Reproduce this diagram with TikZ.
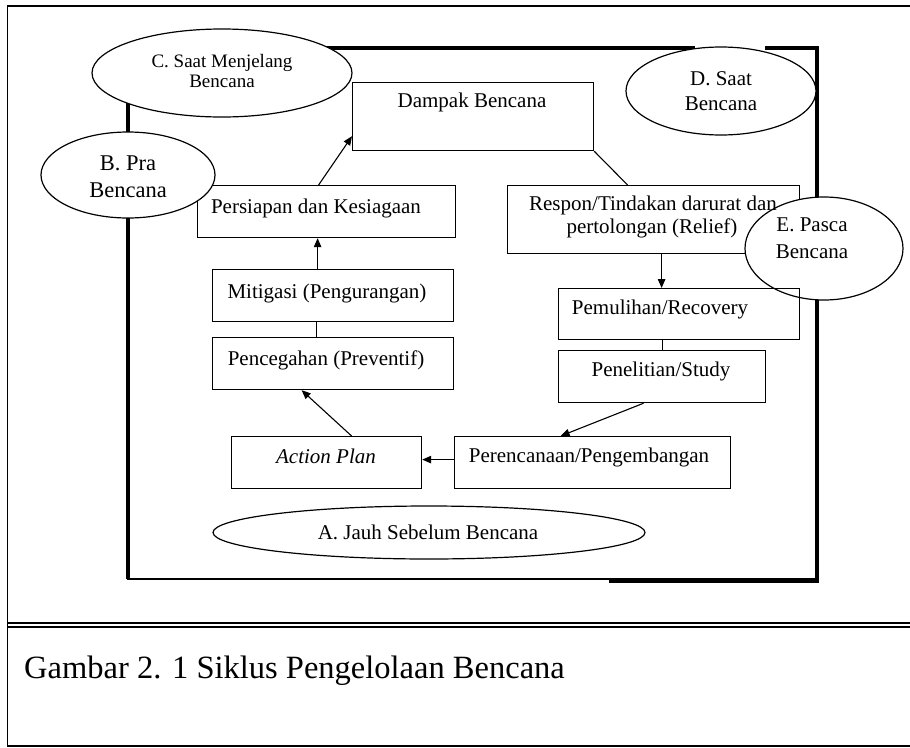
\documentclass[tikz,border=0pt]{standalone}
\usepackage{fontspec}
\setmainfont{Liberation Serif}
\usetikzlibrary{shapes.geometric,arrows.meta}
\begin{document}
\begin{tikzpicture}[x=1pt,y=-1pt,
  outerline/.style={line width=1.8pt},
  cycleline/.style={line width=3.5pt},
  box/.style={draw, line width=1.2pt, rectangle, inner sep=0pt, anchor=north west},
  phase/.style={draw, line width=1.2pt, ellipse, fill=white, inner sep=0pt},
  lbl/.style={font=\fontsize{21}{25}\selectfont, inner sep=0pt, anchor=base},
  link/.style={line width=1.1pt},
  arr/.style={link, -{Triangle[length=9pt,width=7.5pt]}},
]
\useasboundingbox (0,0) rectangle (910,747);
\begin{scope}
\clip (0,0) rectangle (910,747);
% table frame around figure and caption
\draw[outerline] (7.5,747) -- (7.5,6) -- (912,6);
\draw[line width=1.5pt] (7.5,623) -- (912,623);
\draw[line width=1.5pt] (7.5,627) -- (912,627);
\draw[outerline] (7.5,746) -- (912,746);
\end{scope}

% heavy frame of the cycle
\draw[cycleline] (128,46) -- (128,579);
\draw[cycleline] (126.25,48) -- (695,48);
\draw[cycleline] (765,48) -- (818.75,48);
\draw[cycleline] (817,46.25) -- (817,583);
\draw[line width=2pt] (127,579) -- (817,579);
\draw[line width=5pt] (609,580.5) -- (818.75,580.5);

% stage boxes
\node[box, minimum width=241pt, minimum height=68pt] (damp) at (352,82) {};
\node[box, minimum width=258pt, minimum height=52pt] (pers) at (197,185) {};
\node[box, minimum width=241pt, minimum height=52pt] (miti) at (212,269) {};
\node[box, minimum width=241pt, minimum height=52pt] (penc) at (212,337) {};
\node[box, minimum width=190pt, minimum height=52pt] (act) at (231,436) {};
\node[box, minimum width=276pt, minimum height=52pt] (pere) at (454,436) {};
\node[box, minimum width=207pt, minimum height=52pt] (pene) at (558,350) {};
\node[box, minimum width=292pt, minimum height=68pt] (resp) at (507,185) {};

% phase ellipses
\node[phase, minimum width=260pt, minimum height=88pt] (eC) at (222,73) {};
\node[phase, minimum width=174pt, minimum height=86pt] (eB) at (128,175) {};
\node[phase, minimum width=190pt, minimum height=88pt] (eD) at (721,91) {};
\node[phase, minimum width=158pt, minimum height=103pt] (eE) at (824,248.5) {};
\node[phase, minimum width=432pt, minimum height=53pt] (eA) at (429,532.5) {};

\node[box, minimum width=241pt, minimum height=51pt] (pemu) at (558,288) {};

% connectors
\draw[arr] ([xshift=-8pt]pers.north) -- ([yshift=15pt]damp.south west);
\draw[arr] ([xshift=-15.5pt]miti.north) -- ([xshift=-15.5pt]miti.north |- pers.south);
\draw[link] ([xshift=-16.5pt]penc.north) -- ([xshift=-16.5pt]penc.north |- miti.south);
\draw[arr] ([xshift=25pt]act.north) -- ([xshift=-31.5pt]penc.south);
\draw[arr] ([yshift=3pt]pere.west) -- ([yshift=3pt]act.east);
\draw[arr] ([xshift=-18.5pt]pene.south) -- ([xshift=-32pt]pere.north);
\draw[link] (pene.north |- pemu.south) -- (pene.north);
\draw[arr] ([xshift=8pt]resp.south) -- ([xshift=8pt]resp.south |- pemu.north);
\draw[link] (damp.south east) -- ([xshift=-26pt]resp.north);

% box texts
\node[lbl] (dampt) at (472,107) {Dampak Bencana};
\node[lbl] (perst) at (316,213) {Persiapan dan Kesiagaan};
\node[lbl] (mitit) at (327,298) {Mitigasi (Pengurangan)};
\node[lbl] (penct) at (326,365) {Pencegahan (Preventif)};
\node[lbl] (actt) at (326,463) {\itshape Action Plan};
\node[lbl] (peret) at (589,462) {Perencanaan/Pengembangan};
\node[lbl] (penet) at (661,376) {Penelitian/Study};
\node[lbl] (pemut) at (660,314) {Pemulihan/Recovery};
\node[lbl] (respa) at (653,210) {Respon/Tindakan darurat dan};
\node[lbl] (respb) at (652,233) {pertolongan (Relief)};

% phase texts (base anchor sits on the last line)
\node[lbl, font=\fontsize{19}{20}\selectfont, align=center] (eCt) at (222,87) {C. Saat Menjelang\\Bencana};
\node[lbl, font=\fontsize{22.5}{27}\selectfont, align=center] (eBt) at (128,197) {B. Pra\\Bencana};
\node[lbl, font=\fontsize{21}{25}\selectfont, align=center] (eDt) at (721,110) {D. Saat\\Bencana};
\node[lbl, font=\fontsize{21}{27}\selectfont, align=center] (eEt) at (812,258) {E. Pasca\\Bencana};
\node[lbl] (eAt) at (428,539) {A. Jauh Sebelum Bencana};

% caption
\node[inner sep=0pt, anchor=base west, font=\fontsize{32.5}{38}\selectfont] (cap) at (24,678) {Gambar 2. 1 Siklus Pengelolaan Bencana};
\end{tikzpicture}
\end{document}
